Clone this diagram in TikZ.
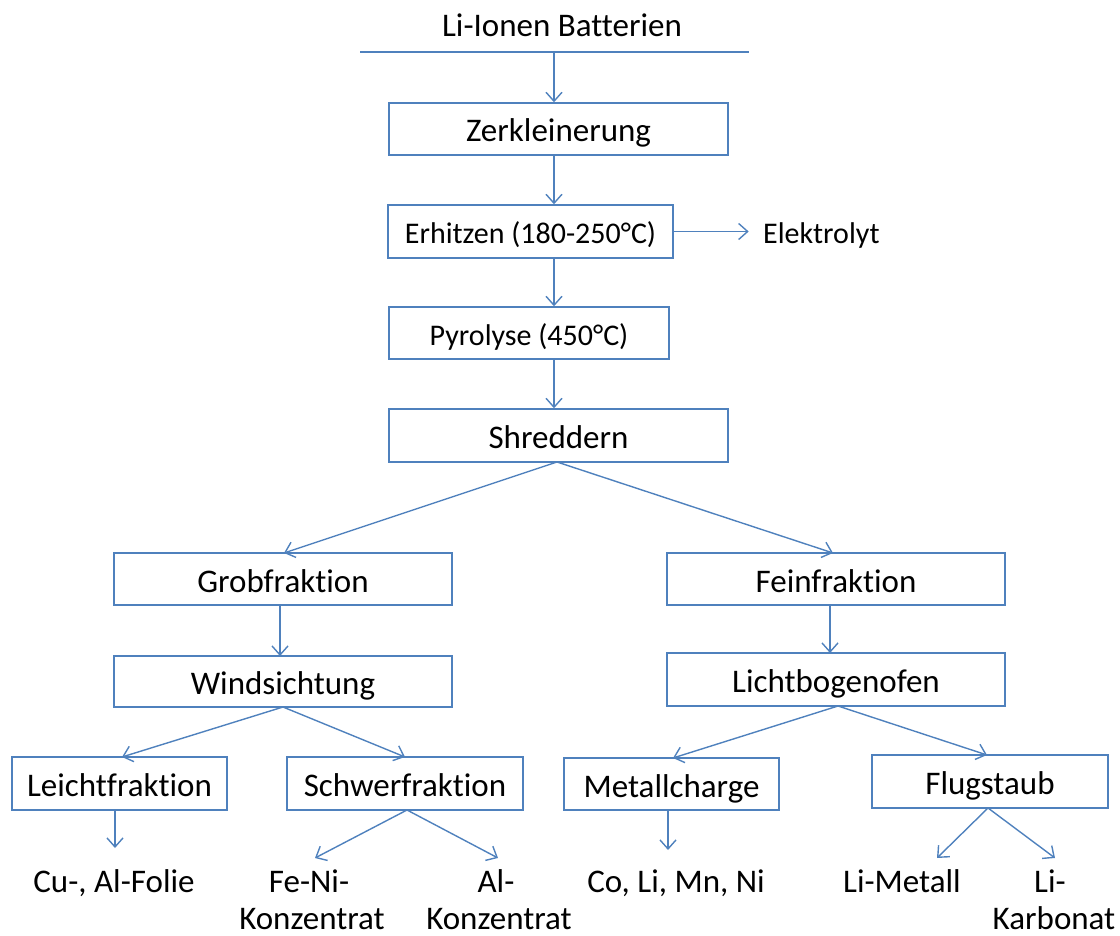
\documentclass[tikz,border=0pt]{standalone}
\usepackage{fontspec}
\setmainfont{Carlito}[Ligatures=NoCommon]
\usetikzlibrary{arrows.meta}
\definecolor{lineblue}{RGB}{79,129,189}
\tikzset{
  txt/.style={inner sep=0pt, font=\fontsize{33}{40}\selectfont},
  stepbox/.style={txt, draw=lineblue, line width=1.4pt, text height=33pt, text depth=7pt},
  small/.style={font=\fontsize{30}{36}\selectfont, text height=30pt, text depth=5pt},
  flow/.style={draw=lineblue, line width=1.4pt, -{Straight Barb[length=9pt,width=16pt,line width=1.4pt]}},
}
% box given by left, top, right, bottom (pixel units, y downwards); optional extra style
\newcommand{\pbox}[7][]{\node[stepbox, #1, minimum width={#5-#3}, minimum height={#6-#4}] (#2) at ({(#3+#5)/2},{-(#4+#6)/2}) {#7};}
\begin{document}
\begin{tikzpicture}[x=1pt,y=1pt]
\useasboundingbox (0,0) rectangle (1120,-936);
% title and feed line
\node[txt, anchor=base] (top) at (562,-37) {Li-Ionen Batterien};
\coordinate (barL) at (360,-52);
\coordinate (barR) at (749,-52);
\coordinate (barM) at (554,-52);
\draw[draw=lineblue, line width=1.4pt] (barL) -- (barR);
% main chain
\pbox{zer}{389}{103}{728}{155}{Zerkleinerung}
\pbox[small]{erh}{388}{205}{673}{258}{Erhitzen (180-250°C)}
\pbox[small]{pyr}{389}{307}{669}{359}{Pyrolyse (450°C)}
\pbox{shr}{389}{409}{728}{462}{Shreddern}
\node[txt, font=\fontsize{30}{36}\selectfont, anchor=base west] (ele) at (763,-244) {Elektrolyt};
% fractions
\pbox{grob}{114}{553}{452}{605}{Grobfraktion}
\pbox{fein}{667}{553}{1005}{605}{Feinfraktion}
\pbox{wind}{114}{656}{452}{707}{Windsichtung}
\pbox{licht}{667}{653}{1005}{706}{Lichtbogenofen}
\pbox{leicht}{12}{757}{227}{810}{Leichtfraktion}
\pbox{schwer}{287}{757}{523}{810}{Schwerfraktion}
\pbox{metall}{564}{758}{779}{810}{Metallcharge}
\pbox{flug}{872}{755}{1108}{808}{Flugstaub}
% products
\node[txt, anchor=base] (cual) at (114,-892) {Cu-, Al-Folie};
\node[txt, anchor=base] (feniA) at (309,-892) {Fe-Ni-};
\node[txt, anchor=base] (feniB) at (312,-929) {Konzentrat};
\node[txt, anchor=base] (alA) at (496,-892) {Al-};
\node[txt, anchor=base] (alB) at (499,-929) {Konzentrat};
\node[txt, anchor=base] (coli) at (676,-892) {Co, Li, Mn, Ni};
\node[txt, anchor=base] (lim) at (902,-892) {Li-Metall};
\node[txt, anchor=base] (likA) at (1050,-892) {Li-};
\node[txt, anchor=base] (likB) at (1054,-929) {Karbonat};
% connectors
\draw[flow] (barM) -- (barM |- zer.north);
\draw[flow] (barM |- zer.south) -- (barM |- erh.north);
\draw[flow] (erh.east) -- ++(75,0);
\draw[flow] (barM |- erh.south) -- (barM |- pyr.north);
\draw[flow] (barM |- pyr.south) -- (barM |- shr.north);
\coordinate (shrB) at (557,-462);
\draw[flow] (shrB) -- (284,-553);
\draw[flow] (shrB) -- (833,-553);
\draw[flow] (280,-605) -- (280,-656);
\draw[flow] (830,-605) -- (830,-653);
\coordinate (windB) at (283,-707);
\draw[flow] (windB) -- (122,-757);
\draw[flow] (windB) -- (405,-757);
\coordinate (lichtB) at (838,-706);
\draw[flow] (lichtB) -- (673,-758);
\draw[flow] (lichtB) -- (987,-755);
\draw[flow] (115,-810) -- (115,-848);
\coordinate (schwerB) at (407,-810);
\draw[flow] (schwerB) -- (315,-858);
\draw[flow] (schwerB) -- (498,-858);
\draw[flow] (668,-810) -- (668,-850);
\coordinate (flugB) at (988,-808);
\draw[flow] (flugB) -- (937,-858);
\draw[flow] (flugB) -- (1055,-858);
\end{tikzpicture}
\end{document}
